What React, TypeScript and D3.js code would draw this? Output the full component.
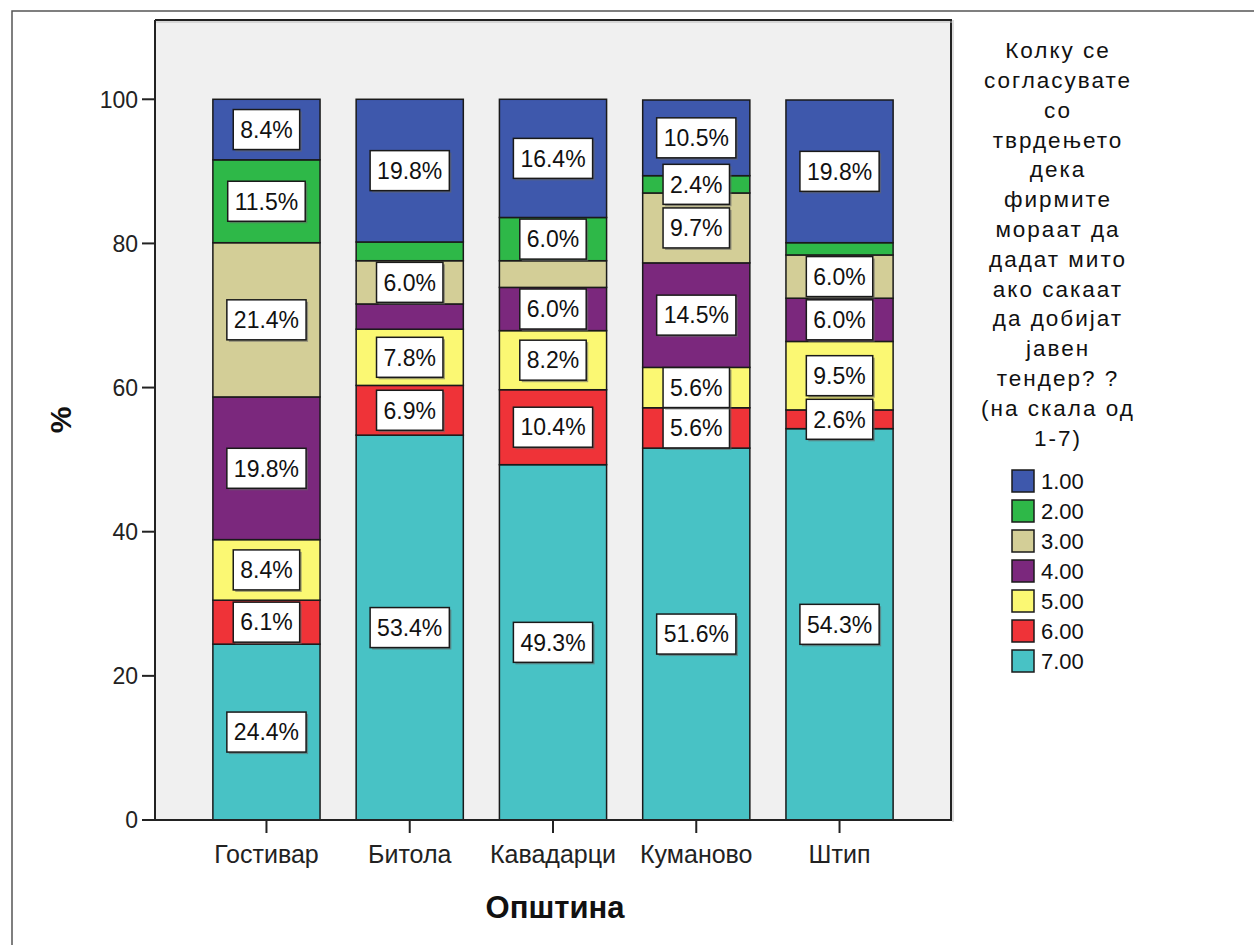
import React from 'react';
import * as d3 from 'd3';

const municipalities = ['Гостивар', 'Битола', 'Кавадарци', 'Куманово', 'Штип'];
const responseLevels = ['1.00', '2.00', '3.00', '4.00', '5.00', '6.00', '7.00'];
const levelColors = ['#3E58AC', '#2EB848', '#D3CE97', '#7B287D', '#FBF873', '#EF3338', '#48C2C5'];
const pct1 = [8.4, 19.8, 16.4, 10.5, 19.8];
const pct2 = [11.5, 2.6, 6.0, 2.4, 1.7];
const pct3 = [21.4, 6.0, 3.7, 9.7, 6.0];
const pct4 = [19.8, 3.5, 6.0, 14.5, 6.0];
const pct5 = [8.4, 7.8, 8.2, 5.6, 9.5];
const pct6 = [6.1, 6.9, 10.4, 5.6, 2.6];
const pct7 = [24.4, 53.4, 49.3, 51.6, 54.3];
const hiddenLabels = ['Битола|2.00', 'Битола|4.00', 'Кавадарци|3.00', 'Штип|2.00'];
const yTicks = [0, 20, 40, 60, 80, 100];
const legendTitleLines = [
  'Колку се', 'согласувате', 'со', 'тврдењето', 'дека', 'фирмите', 'мораат да',
  'дадат мито', 'ако сакаат', 'да добијат', 'јавен', 'тендер? ?', '(на скала од', '1-7)',
];
const xTitle = 'Општина';
const yTitle = '%';

const FONT = '"Liberation Sans", Arial, sans-serif';

const seriesValues = [pct1, pct2, pct3, pct4, pct5, pct6, pct7];
const rows = municipalities.map((m, i) => {
  const r: any = { m };
  responseLevels.forEach((lv, k) => { r[lv] = seriesValues[k][i]; });
  return r;
});

let measureCtx: CanvasRenderingContext2D | null = null;
function textWidth(t: string, size: number) {
  if (!measureCtx) measureCtx = document.createElement('canvas').getContext('2d');
  measureCtx!.font = `${size}px ${FONT}`;
  return measureCtx!.measureText(t).width;
}

export default function App() {
  const W = 1254, H = 945;
  const left = 155, right = 951, top = 20, bottom = 820;
  const x = d3.scaleBand<string>().domain(municipalities).range([left, right])
    .paddingInner(0.252).paddingOuter(0.404);
  const y = d3.scaleLinear().domain([0, 111]).range([bottom, top]);
  const stackKeys = [...responseLevels].reverse();
  const stacked = d3.stack<any>().keys(stackKeys)(rows);
  const colorOf = d3.scaleOrdinal<string, string>().domain(responseLevels).range(levelColors);

  const labelFont = 23;
  const labels: any[] = [];
  stacked.forEach((s) => {
    s.forEach((d, i) => {
      const m = municipalities[i];
      if (hiddenLabels.includes(`${m}|${s.key}`)) return;
      const v = d[1] - d[0];
      const t = `${v.toFixed(1)}%`;
      const w = textWidth(t, labelFont) + 14;
      labels.push({ key: `${m}-${s.key}`, cx: x(m)! + x.bandwidth() / 2, cy: (y(d[0]) + y(d[1])) / 2, t, w });
    });
  });

  return (
    <div style={{ position: 'absolute', left: 0, top: 0 }}>
      <svg width={W} height={H} style={{ display: 'block', background: '#fff' }}>
        <rect x={12} y={11} width={W + 20} height={H + 20} fill="#fff" stroke="#555" strokeWidth={1.5} />
        <rect x={left} y={top} width={right - left} height={bottom - top} fill="#F0F0F0" />
        <line x1={left} x2={right + 1} y1={top} y2={top} stroke="#222" strokeWidth={2} />
        <line x1={right} x2={right} y1={top} y2={bottom} stroke="#222" strokeWidth={2} />
        <line x1={left} x2={right + 1} y1={top + 2} y2={top + 2} stroke="#bbb" strokeWidth={1} />
        <line x1={right + 2} x2={right + 2} y1={top} y2={bottom + 2} stroke="#bbb" strokeWidth={1} />
        {stacked.map((s) => (
          <g key={s.key}>
            {s.map((d, i) => (
              <rect key={i} x={x(municipalities[i])} y={y(d[1])} width={x.bandwidth()}
                height={y(d[0]) - y(d[1])} fill={colorOf(s.key)} stroke="#1a1a1a" strokeWidth={1.5} />
            ))}
          </g>
        ))}
        {labels.map((l) => (
          <g key={l.key}>
            <rect x={l.cx - l.w / 2 + 2} y={l.cy - 20 + 2} width={l.w} height={40} fill="#666" opacity={0.6} />
            <rect x={l.cx - l.w / 2} y={l.cy - 20} width={l.w} height={40} fill="#fff" stroke="#1a1a1a" strokeWidth={1.5} />
            <text x={l.cx} y={l.cy} dy="0.36em" textAnchor="middle" fontFamily={FONT} fontSize={labelFont} fill="#111">{l.t}</text>
          </g>
        ))}
        {/* axes */}
        <line x1={left} x2={left} y1={top} y2={bottom} stroke="#222" strokeWidth={2} />
        <line x1={left} x2={right + 1} y1={bottom} y2={bottom} stroke="#222" strokeWidth={2} />
        {yTicks.map((t) => (
          <g key={t}>
            <line x1={left - 13} x2={left} y1={y(t)} y2={y(t)} stroke="#222" strokeWidth={2} />
            <text x={left - 17} y={y(t)} dy="0.36em" textAnchor="end" fontFamily={FONT} fontSize={23} fill="#222">{t}</text>
          </g>
        ))}
        {municipalities.map((m) => (
          <g key={m}>
            <line x1={x(m)! + x.bandwidth() / 2} x2={x(m)! + x.bandwidth() / 2} y1={bottom} y2={bottom + 13} stroke="#222" strokeWidth={2} />
            <text x={x(m)! + x.bandwidth() / 2} y={854} dy="0.36em" textAnchor="middle" fontFamily={FONT} fontSize={25} fill="#222">{m}</text>
          </g>
        ))}
        <text x={555} y={907} dy="0.36em" textAnchor="middle" fontFamily={FONT} fontSize={31} fontWeight="bold" fill="#111">{xTitle}</text>
        <text transform={`translate(60,420) rotate(-90)`} dy="0.36em" textAnchor="middle" fontFamily={FONT} fontSize={30} fontWeight="bold" fill="#111">{yTitle}</text>
        {/* legend */}
        {legendTitleLines.map((ln, i) => (
          <text key={i} x={1058} y={50 + i * 29.8} dy="0.36em" textAnchor="middle" fontFamily={FONT} fontSize={22.5} letterSpacing={2} fill="#111">{ln}</text>
        ))}
        {responseLevels.map((lv, i) => (
          <g key={lv}>
            <rect x={1012} y={470 + i * 30} width={22} height={22} fill={colorOf(lv)} stroke="#1a1a1a" strokeWidth={1.5} />
            <text x={1041} y={481 + i * 30} dy="0.36em" fontFamily={FONT} fontSize={22} fill="#111">{lv}</text>
          </g>
        ))}
      </svg>
    </div>
  );
}
